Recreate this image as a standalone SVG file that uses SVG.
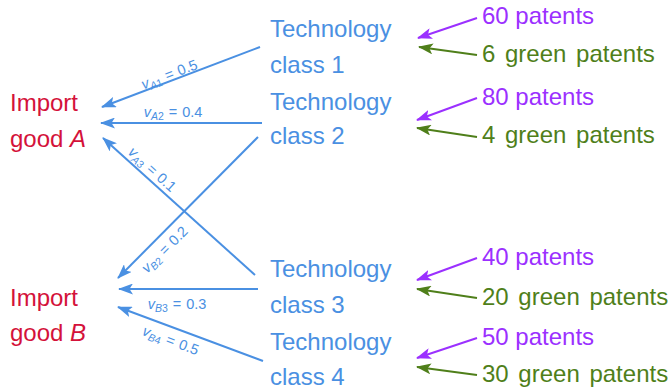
<svg xmlns="http://www.w3.org/2000/svg" width="671" height="390" viewBox="0 0 671 390">
<style>
text{font-family:"Liberation Sans",Arial,sans-serif;}
.big{font-size:24px;}
.imp{fill:#d4123a;}
.tech{fill:#4a90e2;}
.pur{fill:#9b30ff;}
.grn{fill:#4f7f1a;word-spacing:3px;}
.lab{font-size:14.5px;fill:#4a90e2;}
.sub{font-size:10.5px;}
.it{font-style:italic;}
.eb{stroke:#4a90e2;stroke-width:2;fill:none;marker-end:url(#ab);}
.ep{stroke:#9b30ff;stroke-width:2;fill:none;marker-end:url(#ap);}
.eg{stroke:#4f7f1a;stroke-width:2;fill:none;marker-end:url(#ag);}
</style>
<defs>
<marker id="ab" viewBox="0 0 15 11" refX="14" refY="5.5" markerWidth="15" markerHeight="11" markerUnits="userSpaceOnUse" orient="auto"><path d="M0,0 L15,5.5 L0,11 L3.5,5.5 z" fill="#4a90e2"/></marker>
<marker id="ap" viewBox="0 0 15 11" refX="14" refY="5.5" markerWidth="15" markerHeight="11" markerUnits="userSpaceOnUse" orient="auto"><path d="M0,0 L15,5.5 L0,11 L3.5,5.5 z" fill="#9b30ff"/></marker>
<marker id="ag" viewBox="0 0 15 11" refX="14" refY="5.5" markerWidth="15" markerHeight="11" markerUnits="userSpaceOnUse" orient="auto"><path d="M0,0 L15,5.5 L0,11 L3.5,5.5 z" fill="#4f7f1a"/></marker>
</defs>

<g id="importA"><text class="big imp" x="10" y="111">Import</text><text class="big imp" x="10" y="147">good <tspan class="it">A</tspan></text></g>
<g id="importB"><text class="big imp" x="10" y="306">Import</text><text class="big imp" x="10" y="341">good <tspan class="it">B</tspan></text></g>

<g id="tech1"><text class="big tech" x="270" y="37">Technology</text><text class="big tech" x="270" y="73">class 1</text></g>
<g id="tech2"><text class="big tech" x="270" y="110">Technology</text><text class="big tech" x="270" y="144">class 2</text></g>
<g id="tech3"><text class="big tech" x="270" y="277">Technology</text><text class="big tech" x="270" y="313">class 3</text></g>
<g id="tech4"><text class="big tech" x="270" y="350">Technology</text><text class="big tech" x="270" y="385">class 4</text></g>

<g id="pat1"><text class="big pur" x="482" y="24">60 patents</text><text class="big grn" x="482" y="62">6 green patents</text></g>
<g id="pat2"><text class="big pur" x="482" y="105">80 patents</text><text class="big grn" x="482" y="143">4 green patents</text></g>
<g id="pat3"><text class="big pur" x="482" y="265">40 patents</text><text class="big grn" x="482" y="305">20 green patents</text></g>
<g id="pat4"><text class="big pur" x="482" y="345">50 patents</text><text class="big grn" x="482" y="382">30 green patents</text></g>

<g id="connectors">
<line class="eb" x1="260" y1="47" x2="102" y2="107"/>
<line class="eb" x1="262" y1="123" x2="101" y2="123"/>
<line class="eb" x1="255" y1="275" x2="103" y2="138"/>
<line class="eb" x1="258" y1="137" x2="118" y2="278"/>
<line class="eb" x1="258" y1="289" x2="119" y2="289"/>
<line class="eb" x1="263" y1="361" x2="118" y2="307"/>

<line class="ep" x1="477" y1="18" x2="418" y2="38"/>
<line class="eg" x1="477" y1="55" x2="419" y2="47"/>
<line class="ep" x1="477" y1="98" x2="417" y2="120"/>
<line class="eg" x1="477" y1="137" x2="417" y2="128"/>
<line class="ep" x1="477" y1="258" x2="417" y2="280"/>
<line class="eg" x1="477" y1="298" x2="417" y2="289"/>
<line class="ep" x1="477" y1="338" x2="417" y2="358"/>
<line class="eg" x1="477" y1="375" x2="417" y2="367"/>

<text class="lab" text-anchor="middle" transform="translate(171,79) rotate(-20.9)"><tspan class="it">v</tspan><tspan class="sub" dy="3"><tspan class="it">A</tspan>1</tspan><tspan dy="-3" dx="5">=</tspan><tspan dx="5">0.5</tspan></text>
<text class="lab" text-anchor="middle" transform="translate(173,117)"><tspan class="it">v</tspan><tspan class="sub" dy="3"><tspan class="it">A</tspan>2</tspan><tspan dy="-3" dx="5">=</tspan><tspan dx="5">0.4</tspan></text>
<text class="lab" text-anchor="middle" transform="translate(149,173) rotate(42)"><tspan class="it">v</tspan><tspan class="sub" dy="3"><tspan class="it">A</tspan>3</tspan><tspan dy="-3" dx="5">=</tspan><tspan dx="5">0.1</tspan></text>
<text class="lab" text-anchor="middle" transform="translate(168,253) rotate(-45)"><tspan class="it">v</tspan><tspan class="sub" dy="3"><tspan class="it">B</tspan>2</tspan><tspan dy="-3" dx="5">=</tspan><tspan dx="5">0.2</tspan></text>
<text class="lab" text-anchor="middle" transform="translate(177,309)"><tspan class="it">v</tspan><tspan class="sub" dy="3"><tspan class="it">B</tspan>3</tspan><tspan dy="-3" dx="5">=</tspan><tspan dx="5">0.3</tspan></text>
<text class="lab" text-anchor="middle" transform="translate(169,345) rotate(20.4)"><tspan class="it">v</tspan><tspan class="sub" dy="3"><tspan class="it">B</tspan>4</tspan><tspan dy="-3" dx="5">=</tspan><tspan dx="5">0.5</tspan></text>
</g>
</svg>
